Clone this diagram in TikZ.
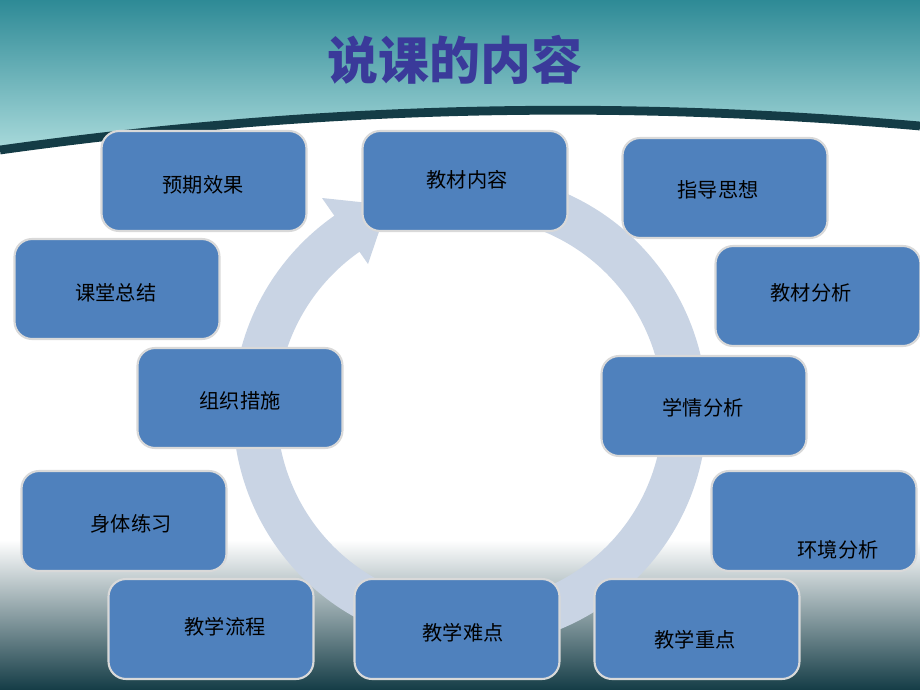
\documentclass[tikz,border=0pt]{standalone}
\usepackage{fontspec}
\setmainfont{Noto Sans CJK SC}
\usetikzlibrary{arrows.meta}
\definecolor{boxblue}{HTML}{4F81BD}
\definecolor{ring}{HTML}{C9D4E4}
\definecolor{titlec}{HTML}{3A3A9A}
\definecolor{teal1}{HTML}{2E8A96}
\definecolor{teal2}{HTML}{A9DADB}
\definecolor{dark}{HTML}{143C46}
\begin{document}
\begin{tikzpicture}[x=0.02cm,y=-0.02cm,
  bx/.style={draw=gray!30,line width=1.2pt,fill=boxblue,rounded corners=10pt,minimum width=4.1cm,minimum height=2.0cm,inner sep=0pt},
  lbl/.style={font=\fontsize{11.5pt}{13pt}\selectfont,text=black}]
\useasboundingbox (0,0) rectangle (920,690);
\fill[white] (0,0) rectangle (920,690);
% header
\shade[top color=teal1,bottom color=teal2] (0,0) rectangle (920,150);
\fill[white] (0,152) .. controls (300,110) and (600,100) .. (920,128) -- (920,690) -- (0,690) -- cycle;
\draw[dark,line width=5pt] (0,150) .. controls (300,108) and (600,98) .. (920,126);
% bottom band
\shade[top color=white,bottom color=dark] (0,540) rectangle (920,690);
\node[font=\fontsize{29pt}{32pt}\selectfont\bfseries,text=titlec] (title) at (455,60) {说课的内容};
% ring
\draw[ring,line width=25pt] (470,410) ++(-80:215) arc[start angle=-80,end angle=236,radius=215];
\fill[ring] (322,198) -- (388,205) -- (368,264) -- cycle;
% boxes
\node[bx] (b1) at (204,181) {}; \node[lbl] at (203,185) {预期效果};
\node[bx] (b2) at (465,181) {}; \node[lbl] at (467,180) {教材内容};
\node[bx] (b3) at (725,188) {}; \node[lbl] at (718,190) {指导思想};
\node[bx] (b4) at (117,289) {}; \node[lbl] at (116,293) {课堂总结};
\node[bx] (b5) at (818,296) {}; \node[lbl] at (811,293) {教材分析};
\node[bx] (b6) at (240,398) {}; \node[lbl] at (240,401) {组织措施};
\node[bx] (b7) at (704,406) {}; \node[lbl] at (703,408) {学情分析};
\node[bx] (b8) at (124,521) {}; \node[lbl] at (131,524) {身体练习};
\node[bx] (b9) at (814,521) {}; \node[lbl] at (838,550) {环境分析};
\node[bx] (b10) at (211,629) {}; \node[lbl] at (225,627) {教学流程};
\node[bx] (b11) at (457,629) {}; \node[lbl] at (463,633) {教学难点};
\node[bx] (b12) at (697,629) {}; \node[lbl] at (695,640) {教学重点};
\end{tikzpicture}
\end{document}
